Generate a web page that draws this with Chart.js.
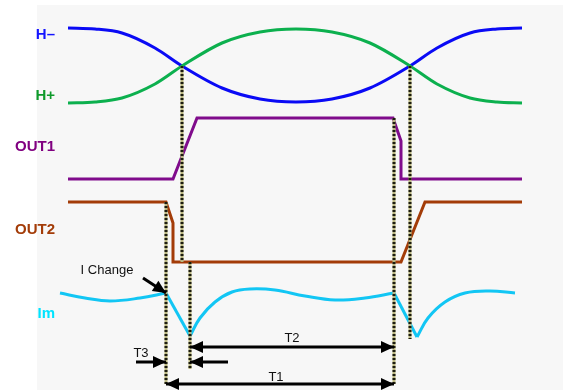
<!DOCTYPE html>
<html>
<head>
<meta charset="utf-8">
<script src="https://cdn.jsdelivr.net/npm/chart.js@4.4.1/dist/chart.umd.min.js"></script>
<style>
  html, body { margin: 0; padding: 0; background: #fff; }
</style>
</head>
<body>
<canvas id="chart" width="563" height="390"></canvas>
<script>
// signal traces as [x, y] (y grows downward)
const hMinus = [[68,28],[95,29],[122,33],[155,48],[182,66],[222,88],[260,99],[296,102],[332,99],[370,88],[410,66],[437,48],[470,33],[497,29],[522,28]];
const hPlus  = [[68,103],[95,102],[122,98],[155,84],[182,66],[222,43],[260,32],[296,29],[332,32],[370,43],[410,66],[437,84],[470,98],[497,102],[522,103]];
const out1   = [[68,179],[173,179],[197,118],[393,118],[401,141],[401,179],[522,179]];
const out2   = [[68,202],[166,202],[173,223],[173,262],[401,262],[425,202],[522,202]];
// Im is smooth between the sharp drops, so it is kept in pieces
const imPieces = [
  { pts: [[60,293],[85,298],[110,301],[140,298],[166,293]], curve: true },
  { pts: [[166,293],[190,336]], curve: false },
  { pts: [[190,336],[200,318],[215,302],[232,292],[250,289],[275,290],[305,296],[335,300],[365,298],[394,293]], curve: true },
  { pts: [[394,293],[417,337]], curve: false },
  { pts: [[417,337],[428,318],[445,302],[465,293],[490,291],[515,293]], curve: true }
];

// dotted timing guides: x, top, bottom
const guideX      = [166, 182, 190, 394, 410];
const guideTop    = [202, 66, 262, 118, 66];
const guideBottom = [384, 262, 369, 384, 339];

// arrows: from, to, which ends get a head
const arrows = [
  { from: [143,278], to: [166,293], head: 'end' },   // I Change
  { from: [190,347], to: [394,347], head: 'both' },  // T2
  { from: [136,362], to: [166,362], head: 'end' },   // T3 left
  { from: [228,362], to: [190,362], head: 'end' },   // T3 right
  { from: [166,384], to: [394,384], head: 'both' }   // T1
];

const sideLabels  = ['H\u2013', 'H+', 'OUT1', 'OUT2', 'Im'];
const sideLabelY  = [35, 96, 147, 230, 314];
const sideColors  = ['#1414ff', '#0e9a2a', '#800080', '#a33c08', '#00e4ff'];

const noteTexts = ['I Change', 'T2', 'T3', 'T1'];
const noteX     = [107, 292, 141, 276];
const noteY     = [270, 338, 353, 377];

const toXY = arr => arr.map(p => ({ x: p[0], y: p[1] }));

function line(data, color, width, extra) {
  return Object.assign({
    data: toXY(data),
    borderColor: color,
    borderWidth: width,
    showLine: true,
    pointRadius: 0,
    fill: false,
    tension: 0
  }, extra || {});
}

const datasets = [];

// arrows (on top)
arrows.forEach(a => {
  datasets.push(line([a.from, a.to], '#000', 3, { arrow: a.head, borderCapStyle: 'butt' }));
});

// guides: black dots over an olive base
guideX.forEach((x, i) => {
  const seg = [[x, guideTop[i]], [x, guideBottom[i]]];
  datasets.push(line(seg, '#1c1c10', 3, { borderDash: [2, 2], borderCapStyle: 'butt' }));
  datasets.push(line(seg, '#b9b680', 3, { borderCapStyle: 'butt' }));
});

imPieces.forEach(p => {
  datasets.push(line(p.pts, '#12c6f4', 3, { tension: p.curve ? 0.4 : 0 }));
});
datasets.push(line(out2, '#a33c08', 3));
datasets.push(line(out1, '#800c8c', 3));
datasets.push(line(hPlus, '#0cb04e', 3, { cubicInterpolationMode: 'monotone' }));
datasets.push(line(hMinus, '#0a0af5', 3, { cubicInterpolationMode: 'monotone' }));

const panelPlugin = {
  id: 'panel',
  beforeDraw(chart) {
    const { ctx, scales: { x, y } } = chart;
    ctx.save();
    ctx.fillStyle = '#f7f7f7';
    const x0 = x.getPixelForValue(37), y0 = y.getPixelForValue(5);
    ctx.fillRect(x0, y0, x.getPixelForValue(563) - x0, y.getPixelForValue(390) - y0);
    ctx.restore();
  }
};

const arrowPlugin = {
  id: 'arrowHeads',
  afterDatasetsDraw(chart) {
    const ctx = chart.ctx;
    chart.data.datasets.forEach((ds, i) => {
      if (!ds.arrow) return;
      const pts = chart.getDatasetMeta(i).data;
      const a = pts[0], b = pts[pts.length - 1];
      const heads = ds.arrow === 'both' ? [[a, b], [b, a]] : [[a, b]];
      heads.forEach(([p, q]) => {
        const dx = q.x - p.x, dy = q.y - p.y;
        const len = Math.hypot(dx, dy);
        const ux = dx / len, uy = dy / len;
        const L = 13, W = 6;
        ctx.save();
        ctx.fillStyle = '#000';
        ctx.beginPath();
        ctx.moveTo(q.x, q.y);
        ctx.lineTo(q.x - L * ux - W * uy, q.y - L * uy + W * ux);
        ctx.lineTo(q.x - L * ux + W * uy, q.y - L * uy - W * ux);
        ctx.closePath();
        ctx.fill();
        ctx.restore();
      });
    });
  }
};

const textPlugin = {
  id: 'texts',
  afterDraw(chart) {
    const { ctx, scales: { x, y } } = chart;
    ctx.save();
    ctx.textBaseline = 'middle';
    ctx.font = 'bold 15px "Liberation Sans", Arial, sans-serif';
    ctx.textAlign = 'right';
    sideLabels.forEach((t, i) => {
      ctx.fillStyle = sideColors[i];
      ctx.fillText(t, x.getPixelForValue(55), y.getPixelForValue(sideLabelY[i]));
    });
    ctx.font = '13px "Liberation Sans", Arial, sans-serif';
    ctx.textAlign = 'center';
    ctx.fillStyle = '#111';
    noteTexts.forEach((t, i) => {
      ctx.fillText(t, x.getPixelForValue(noteX[i]), y.getPixelForValue(noteY[i]));
    });
    ctx.restore();
  }
};

new Chart(document.getElementById('chart'), {
  type: 'scatter',
  data: { datasets },
  options: {
    responsive: false,
    animation: false,
    layout: { padding: 0 },
    plugins: { legend: { display: false }, tooltip: { enabled: false } },
    scales: {
      x: { type: 'linear', min: 0, max: 563, display: false },
      y: { type: 'linear', min: 0, max: 390, reverse: true, display: false }
    }
  },
  plugins: [panelPlugin, arrowPlugin, textPlugin]
});
</script>
</body>
</html>
